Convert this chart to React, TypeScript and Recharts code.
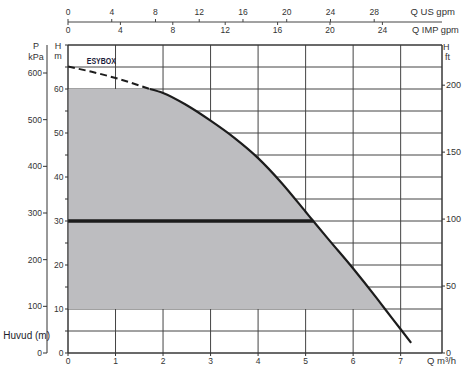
import React from 'react';
import { ComposedChart, Area, Line, XAxis, YAxis, CartesianGrid } from 'recharts';

// Flow (m³/h) sample points along the pump curve
const flowQ = [0, 0.5, 1, 1.72, 2, 2.5, 3, 3.5, 4, 4.5, 5, 5.16, 5.5, 6, 6.5, 6.67, 7, 7.22];
// Head (m) of the ESYBOX curve at those flows
const headCurve = [65.1, 63.9, 62.5, 60, 59.1, 56.3, 52.8, 48.9, 44.3, 38.6, 32.1, 30, 25.6, 19.2, 12.4, 10, 5.4, 2.3];
const dashedEndQ = 1.72;
const maxHead = 60;
const minHead = 10;
const setpointHead = 30;
const setpointEndQ = 5.16;

// Unit conversions for the secondary flow axes
const usGpmPerM3h = 4.4029;
const impGpmPerM3h = 3.6662;

// Axis domains and ticks
const qDomain = [0, 7.87];
const qTicks = [0, 1, 2, 3, 4, 5, 6, 7];
const usDomain = [0, 34.2];
const usTicks = [0, 4, 8, 12, 16, 20, 24, 28];
const impDomain = [0, 28.55];
const impTicks = [0, 4, 8, 12, 16, 20, 24];
const hDomain = [0, 70];
const hTicks = [0, 5, 10, 15, 20, 25, 30, 35, 40, 45, 50, 55, 60, 65, 70];
const kpaDomain = [0, 660];
const kpaTicks = [0, 100, 200, 300, 400, 500, 600];
const ftDomain = [0, 230];
const ftTicks = [0, 50, 100, 150, 200];

const data = flowQ.map((q, i) => {
  const h = headCurve[i];
  return {
    q,
    usGpm: q * usGpmPerM3h,
    impGpm: q * impGpmPerM3h,
    dashed: q <= dashedEndQ ? h : undefined,
    solid: q >= dashedEndQ ? h : undefined,
    band: h >= minHead ? [minHead, Math.min(maxHead, h)] : undefined,
    setpoint: q <= setpointEndQ ? setpointHead : undefined,
  };
});

const FONT = 'Liberation Sans, Arial, sans-serif';
const TXT = '#333';
const tickStyle = { fontSize: 8.5, fill: TXT, fontFamily: FONT };

const ImpTick = (props: any) => {
  const { x, y, payload } = props;
  return (
    <g>
      <line x1={x} x2={x} y1={y - 23} y2={y - 20} stroke="#444" strokeWidth={1} />
      <text x={x} y={y - 12} textAnchor="middle" fontSize={8.5} fill={TXT} fontFamily={FONT}>
        {payload.value}
      </text>
    </g>
  );
};

export default function App() {
  return (
    <div style={{ position: 'absolute', left: 0, top: 0, width: 469, height: 370, background: '#fff' }}>
      <ComposedChart width={469} height={370} data={data} margin={{ top: 0, right: 0, bottom: 0, left: 0 }}>
        <XAxis
          xAxisId="q"
          dataKey="q"
          type="number"
          orientation="bottom"
          domain={qDomain}
          ticks={qTicks}
          interval={0}
          allowDataOverflow
          height={17}
          tickSize={3}
          tickMargin={1.5}
          stroke="#333"
          tick={tickStyle}
        />
        <XAxis
          xAxisId="imp"
          dataKey="impGpm"
          type="number"
          orientation="top"
          domain={impDomain}
          ticks={impTicks}
          interval={0}
          allowDataOverflow
          height={23}
          tickSize={0}
          tickMargin={0}
          tickLine={false}
          stroke="#333"
          tick={<ImpTick />}
        />
        <XAxis
          xAxisId="us"
          dataKey="usGpm"
          type="number"
          orientation="top"
          domain={usDomain}
          ticks={usTicks}
          interval={0}
          allowDataOverflow
          height={22}
          tickSize={3}
          tickMargin={4}
          stroke="#444"
          tick={tickStyle}
        />
        <YAxis
          yAxisId="h"
          type="number"
          orientation="left"
          domain={hDomain}
          ticks={hTicks}
          interval={0}
          allowDataOverflow
          width={21}
          tickSize={3}
          tickMargin={1.5}
          stroke="#333"
          tick={tickStyle}
          tickFormatter={(v: number) => (v % 10 === 0 && v < 70 ? String(v) : '')}
        />
        <YAxis
          yAxisId="kpa"
          type="number"
          orientation="left"
          domain={kpaDomain}
          ticks={kpaTicks}
          interval={0}
          allowDataOverflow
          width={47}
          tickSize={4}
          tickMargin={1}
          stroke="#333"
          tick={tickStyle}
        />
        <YAxis
          yAxisId="ft"
          type="number"
          orientation="right"
          domain={ftDomain}
          ticks={ftTicks}
          interval={0}
          allowDataOverflow
          width={27}
          tickSize={3}
          tickMargin={1}
          stroke="#333"
          tick={{ ...tickStyle, fontSize: 9 }}
        />
        <Area
          xAxisId="q"
          yAxisId="h"
          dataKey="band"
          type="monotone"
          fill="#bdbdc0"
          fillOpacity={1}
          stroke="none"
          isAnimationActive={false}
        />
        <CartesianGrid xAxisId="q" yAxisId="h" stroke="#444" strokeWidth={1} fill="none" />
        <Line
          xAxisId="q"
          yAxisId="h"
          dataKey="setpoint"
          type="linear"
          stroke="#1c1c1c"
          strokeWidth={3.6}
          dot={false}
          isAnimationActive={false}
        />
        <Line
          xAxisId="q"
          yAxisId="h"
          dataKey="dashed"
          type="monotone"
          stroke="#1c1c1c"
          strokeWidth={2}
          strokeDasharray="7 4"
          dot={false}
          isAnimationActive={false}
        />
        <Line
          xAxisId="q"
          yAxisId="h"
          dataKey="solid"
          type="monotone"
          stroke="#1c1c1c"
          strokeWidth={2.2}
          dot={false}
          isAnimationActive={false}
        />
      </ComposedChart>
      <svg
        width={469}
        height={370}
        style={{ position: 'absolute', left: 0, top: 0, pointerEvents: 'none' }}
        fontFamily={FONT}
      >
        <text x={36} y={48.5} textAnchor="middle" fontSize={9} fill={TXT}>P</text>
        <text x={36} y={60} textAnchor="middle" fontSize={9} fill={TXT}>kPa</text>
        <text x={58} y={48.5} textAnchor="middle" fontSize={9} fill={TXT}>H</text>
        <text x={58} y={58.5} textAnchor="middle" fontSize={9} fill={TXT}>m</text>
        <text x={443} y={50} fontSize={9} fill={TXT}>H</text>
        <text x={445} y={60} fontSize={9} fill={TXT}>ft</text>
        <text x={410.5} y={15} fontSize={9.5} fill={TXT}>Q US gpm</text>
        <text x={412} y={33} fontSize={9.3} fill={TXT}>Q IMP gpm</text>
        <text x={427} y={364} fontSize={9.5} fill={TXT}>Q m³/h</text>
        <text x={3.3} y={339} fontSize={10} fill="#1d1d2b">Huvud (m)</text>
        <text
          x={86.7}
          y={64}
          fontSize={8.5}
          fontWeight="bold"
          fill="#1b1b3a"
          textLength={29.3}
          lengthAdjust="spacingAndGlyphs"
        >
          ESYBOX
        </text>
      </svg>
    </div>
  );
}
